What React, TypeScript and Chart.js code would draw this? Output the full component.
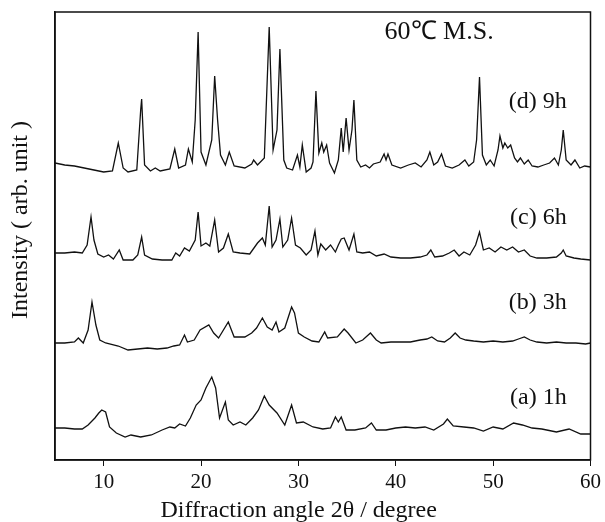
import { useEffect, useRef } from "react";
import { Chart, registerables } from "chart.js";

Chart.register(...registerables);

const X_TICKS = [10, 20, 30, 40, 50, 60];
const X_TITLE = "Diffraction angle 2θ / degree";
const Y_TITLE = "Intensity ( arb. unit )";
const CHART_TITLE = "60℃ M.S.";
const SERIES_LABELS = ["(d) 9h", "(c) 6h", "(b) 3h", "(a) 1h"];

// (d) 9h
const D_X = [5.0,6.0,7.0,8.0,9.0,10.0,10.9,11.5,12.0,12.5,13.4,13.8,13.9,14.2,14.8,15.3,15.8,16.8,17.3,17.7,18.4,18.7,19.1,19.4,19.7,20.0,20.5,21.1,21.4,21.7,22.0,22.5,22.9,23.4,24.5,25.2,25.4,25.8,26.5,27.0,27.4,27.8,28.1,28.5,28.8,29.4,29.9,30.15,30.4,30.8,31.3,31.5,31.8,32.1,32.4,32.6,32.9,33.2,33.7,34.1,34.4,34.6,34.9,35.2,35.5,35.7,36.0,36.4,36.9,37.3,37.7,38.4,38.8,39.0,39.2,39.6,40.5,41.3,42.0,42.6,43.2,43.5,43.9,44.3,44.7,45.1,45.8,46.5,47.1,47.5,48.0,48.3,48.6,48.9,49.3,49.7,50.1,50.5,50.7,51.0,51.2,51.5,51.8,52.2,52.5,52.8,53.2,53.6,54.0,54.6,55.2,55.8,56.3,56.7,57.0,57.2,57.5,58.0,58.4,58.9,59.4,60.0];
const D_Y = [297,295,294,292,290,288,289,317,292,288,290,350,361,295,289,292,289,291,311,292,295,311,298,340,428,308,295,320,384,340,305,295,308,294,292,296,300,295,302,433,310,330,411,300,292,290,305,293,315,288,292,298,369,307,317,308,315,297,287,300,332,308,342,310,330,360,300,293,295,292,296,298,306,300,306,295,292,295,297,293,300,308,295,298,306,294,292,295,300,294,298,320,383,305,295,300,294,310,324,312,317,312,315,302,298,302,296,300,294,293,295,297,302,295,310,330,300,295,300,292,294,293];

// (c) 6h
const C_X = [5.0,6.0,7.0,7.8,8.3,8.7,9.0,9.4,10.0,10.5,11.0,11.6,12.0,13.0,13.5,13.9,14.2,15.0,16.0,17.0,17.4,17.8,18.3,18.8,19.4,19.7,20.0,20.5,20.9,21.4,21.8,22.3,22.8,23.3,24.0,25.0,25.8,26.3,26.6,27.0,27.3,27.7,28.1,28.4,28.9,29.3,29.7,30.2,30.8,31.3,31.7,32.0,32.3,32.8,33.3,33.8,34.1,34.4,34.7,35.2,35.7,36.0,36.6,37.3,38.0,38.8,39.5,40.5,41.5,42.5,43.2,43.6,44.0,44.8,45.5,46.0,46.5,47.0,47.6,48.2,48.6,49.0,49.6,50.2,50.8,51.4,52.0,52.6,53.2,53.8,54.5,55.5,56.5,57.0,57.2,57.5,58.3,59.0,60.0];
const C_Y = [207,207,208,207,215,243,220,206,203,205,201,210,200,200,205,223,205,201,200,200,207,204,212,209,220,248,214,217,214,240,208,212,226,208,207,206,217,222,215,254,213,220,241,213,220,242,215,212,205,210,229,205,216,210,215,208,215,221,222,210,226,208,207,208,204,206,203,202,202,203,205,210,203,204,207,210,204,208,205,215,228,210,212,208,213,210,213,208,210,204,202,202,203,207,210,204,202,201,200];

// (b) 3h
const B_X = [5.0,6.0,7.0,7.4,7.9,8.4,8.8,9.2,9.6,10.2,11.5,12.5,13.5,14.5,15.5,16.5,17.2,17.8,18.3,18.6,19.3,19.9,20.8,21.3,21.8,22.8,23.4,24.5,25.2,25.7,26.3,26.8,27.3,27.7,28.0,28.6,29.3,29.6,30.0,30.6,31.4,32.1,32.7,33.0,34.0,34.7,35.1,35.9,36.6,37.4,38.0,38.5,39.5,40.5,41.5,42.5,43.2,43.7,44.3,45.0,45.6,46.1,46.6,47.2,48.0,49.0,50.0,51.0,52.0,52.6,53.2,53.8,54.5,55.5,56.5,57.5,58.5,59.5,60.0];
const B_Y = [117,117,118,122,117,130,158,135,120,117,114,110,111,112,111,112,114,115,125,118,120,130,135,127,122,138,123,123,127,132,142,133,130,138,128,132,153,147,127,123,119,118,128,122,123,131,127,117,120,127,120,117,118,118,118,120,121,123,119,118,122,127,122,120,119,118,119,118,119,121,123,120,118,117,118,117,117,116,117];

// (a) 1h
const A_X = [5.0,6.0,7.0,7.8,8.4,8.8,9.1,9.5,9.8,10.2,10.6,11.3,12.2,12.8,13.8,14.9,16.0,16.8,17.3,17.8,18.4,18.9,19.5,20.0,20.5,21.1,21.5,21.9,22.5,22.8,23.3,24.0,24.6,25.3,25.9,26.5,27.0,27.8,28.6,29.3,29.8,30.5,31.5,32.5,33.3,33.8,34.1,34.4,34.9,35.8,36.9,37.5,38.0,39.0,40.0,41.0,42.0,43.0,43.9,44.9,45.3,45.9,47.0,48.0,49.0,50.0,51.0,52.1,53.0,54.0,55.0,56.5,57.8,59.0,60.0];
const A_Y = [32,32,31,31,35,39,42,47,50,48,33,27,23,25,23,25,30,33,32,36,34,42,55,60,72,83,72,42,58,40,35,38,35,42,50,64,55,47,35,55,37,38,33,31,32,43,38,43,30,30,32,37,30,30,32,33,32,33,30,36,41,34,33,32,29,33,31,37,35,32,31,28,31,26,26];

const LABEL_X = 57.55;
const LABEL_Y = [358, 242, 157, 62];
const TITLE_POS = { x: 38.85, y: 428 };

const pts = (xs: number[], ys: number[]) => xs.map((x, i) => ({ x, y: ys[i] }));

export default function App() {
  const ref = useRef<HTMLCanvasElement>(null);
  useEffect(() => {
    if (!ref.current) return;
    const family = "'Liberation Serif', 'Times New Roman', serif";
    const annot = {
      id: "annot",
      afterDraw(chart: any) {
        const ctx = chart.ctx;
        const { left, right, top, bottom } = chart.chartArea;
        const xs = chart.scales.x;
        const ys = chart.scales.y;
        ctx.save();
        ctx.strokeStyle = "#111";
        ctx.lineWidth = 1.5;
        ctx.strokeRect(left, top, right - left, bottom - top);
        ctx.fillStyle = "#111";
        ctx.textBaseline = "middle";
        ctx.font = `26px ${family}`;
        ctx.textAlign = "left";
        ctx.fillText(CHART_TITLE, xs.getPixelForValue(TITLE_POS.x), ys.getPixelForValue(TITLE_POS.y));
        ctx.font = `24px ${family}`;
        ctx.textAlign = "right";
        SERIES_LABELS.forEach((t, i) => {
          ctx.fillText(t, xs.getPixelForValue(LABEL_X), ys.getPixelForValue(LABEL_Y[i]));
        });
        // x-axis title
        ctx.textAlign = "center";
        ctx.fillText(X_TITLE, left + (right - left) * 0.455, bottom + 51);
        // y-axis title
        ctx.save();
        ctx.translate(21, (top + bottom) / 2 - 16);
        ctx.rotate(-Math.PI / 2);
        ctx.textAlign = "center";
        ctx.fillText(Y_TITLE, 0, 0);
        ctx.restore();
        ctx.restore();
      },
    };
    const mk = (xs: number[], ys: number[]) => ({
      data: pts(xs, ys),
      borderColor: "#111",
      borderWidth: 1.3,
      pointRadius: 0,
      tension: 0,
      fill: false,
    });
    const chart = new Chart(ref.current, {
      type: "line",
      data: {
        datasets: [mk(D_X, D_Y), mk(C_X, C_Y), mk(B_X, B_Y), mk(A_X, A_Y)],
      },
      options: {
        responsive: false,
        animation: false,
        layout: { padding: { top: 12, right: 11, left: 0, bottom: 0 } },
        plugins: { legend: { display: false }, tooltip: { enabled: false } },
        scales: {
          x: {
            type: "linear",
            min: 5,
            max: 60,
            afterBuildTicks: (s: any) => {
              s.ticks = X_TICKS.map((v) => ({ value: v }));
            },
            afterFit: (s: any) => {
              s.height = 62;
            },
            ticks: { color: "#111", font: { family, size: 21 }, padding: 4, maxRotation: 0 },
            grid: { display: true, drawOnChartArea: false, drawTicks: true, tickLength: 6, color: "#111" },
            border: { display: true, color: "#111", width: 1.5 },
            title: { display: false },
          },
          y: {
            type: "linear",
            min: 0,
            max: 448,
            ticks: { display: false },
            grid: { display: false },
            border: { display: true, color: "#111", width: 1.5 },
            afterFit: (s: any) => {
              s.width = 55;
            },
            title: { display: false },
          },
        },
      },
      plugins: [annot],
    });
    return () => chart.destroy();
  }, []);
  return (
    <div style={{ position: "fixed", left: 0, top: 0, width: 605, height: 522, background: "#fff" }}>
      <canvas ref={ref} width={605} height={522} />
    </div>
  );
}
